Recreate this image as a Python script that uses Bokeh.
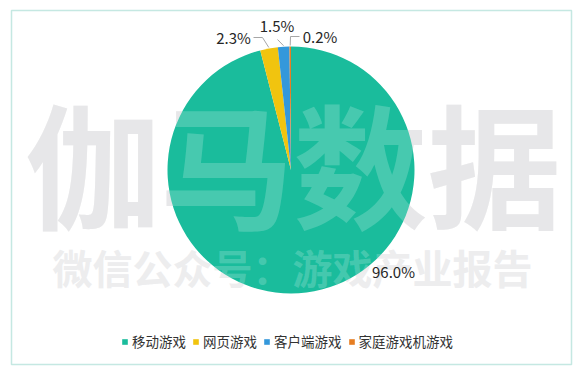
import math
from bokeh.plotting import figure
from bokeh.models import Range1d, Legend, LegendItem, ColumnDataSource, BoxAnnotation
from bokeh.core.properties import value
from bokeh.embed import file_html
from bokeh.resources import INLINE

# ---- data ----
categories = ["移动游戏", "网页游戏", "客户端游戏", "家庭游戏机游戏"]
shares = [96.0, 2.3, 1.5, 0.2]
share_labels = ["96.0%", "2.3%", "1.5%", "0.2%"]
colors = ["#1ABC9C", "#F1C40F", "#3498DB", "#E67E22"]
watermark_main = "伽马数据"
watermark_sub = "微信公众号：游戏产业报告"

# ---- layout (plot units = pixels, y up) ----
W, H = 576, 366
CX, CY, R = 290.5, 196.5, 123.5
label_pos = [(393, 95), (233, 329), (276.5, 341), (319.5, 330)]
leader_start = [None, (253, 329), (277, 327), (299, 330)]
leader_elbow = [None, (262, 329), None, (290, 330)]

FONT_NAME = "Noto Sans CJK SC"
FONT = value(FONT_NAME)

p = figure(width=W, height=H, x_range=Range1d(0, W), y_range=Range1d(0, H),
           output_backend="svg", toolbar_location=None, min_border=0,
           background_fill_color="white", border_fill_color="white")
p.axis.visible = False
p.grid.visible = False
p.outline_line_color = None

# watermark underlay
p.text(x=[293], y=[206], text=[watermark_main], text_font=FONT, text_font_style="bold",
       text_font_size="134px", text_align="center", text_baseline="middle",
       text_color="#e2e2e4")
p.text(x=[292], y=[100], text=[watermark_sub], text_font=FONT, text_font_style="bold",
       text_font_size="40px", text_align="center", text_baseline="middle",
       text_color="#e9e9eb")

# pie
total = sum(shares)
starts, ends, mids = [], [], []
cum = 0.0
for s in shares:
    a0 = math.pi / 2 - 2 * math.pi * cum / total
    cum += s
    a1 = math.pi / 2 - 2 * math.pi * cum / total
    starts.append(a0)
    ends.append(a1)
    mids.append((a0 + a1) / 2)

src = ColumnDataSource(dict(cat=categories, start=starts, end=ends, color=colors))
wedges = p.wedge(x=CX, y=CY, radius=R, start_angle="start", end_angle="end",
                 direction="clock", fill_color="color", line_color=None, source=src)

# watermark overlay (shows through the pie)
p.text(x=[293], y=[206], text=[watermark_main], text_font=FONT, text_font_style="bold",
       text_font_size="134px", text_align="center", text_baseline="middle",
       text_color="white", text_alpha=0.2)
p.text(x=[292], y=[100], text=[watermark_sub], text_font=FONT, text_font_style="bold",
       text_font_size="40px", text_align="center", text_baseline="middle",
       text_color="white", text_alpha=0.2)

# leader lines
for i in range(len(shares)):
    if leader_start[i] is None:
        continue
    ex = CX + (R + 1) * math.cos(mids[i])
    ey = CY + (R + 1) * math.sin(mids[i])
    xs = [leader_start[i][0]]
    ys = [leader_start[i][1]]
    if leader_elbow[i] is not None:
        xs.append(leader_elbow[i][0])
        ys.append(leader_elbow[i][1])
    xs.append(ex)
    ys.append(ey)
    p.line(xs, ys, line_color="#a6a6a6", line_width=1)

# data labels
p.text(x=[q[0] for q in label_pos], y=[q[1] for q in label_pos], text=share_labels,
       text_font=FONT, text_font_size="15px", text_align="center",
       text_baseline="middle", text_color="#262626")

# border
p.add_layout(BoxAnnotation(left=11, right=571, bottom=2, top=356, fill_alpha=0,
                           line_color="#3fb3a0", line_width=1.5))

# legend
items = [LegendItem(label=c, renderers=[wedges], index=i) for i, c in enumerate(categories)]
legend = Legend(items=items, orientation="horizontal", location=(121, 15),
                glyph_width=7, glyph_height=7, label_standoff=4, spacing=6,
                padding=0, margin=0, border_line_color=None, background_fill_alpha=0,
                label_text_font=FONT_NAME, label_text_font_size="13.5px",
                label_text_color="#333333", label_height=20)
p.add_layout(legend)

open("out.html", "w").write(file_html(p, INLINE))
